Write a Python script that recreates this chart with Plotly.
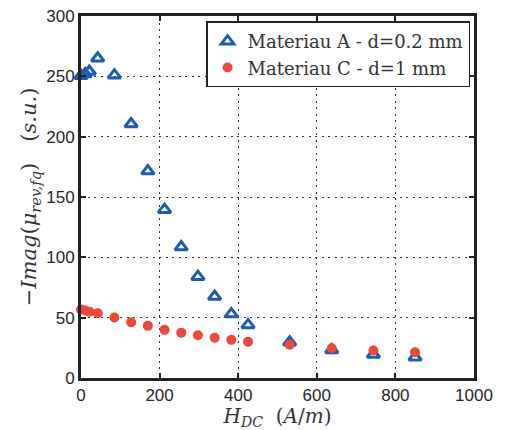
import plotly.graph_objects as go

# Data
h_a = [0, 10.6, 21.3, 42.5, 85, 127.5, 170, 212.5, 255, 297.5, 340, 382.5, 425, 531, 638, 744, 850]
mu_a = [250.5, 252, 254, 265, 251, 210.5, 171.5, 139.5, 108.5, 84, 67.5, 53, 44, 29.6, 23.3, 19.5, 17.2]

h_c = [0, 10.6, 21.3, 42.5, 85, 127.5, 170, 212.5, 255, 297.5, 340, 382.5, 425, 531, 638, 744, 850]
mu_c = [56.7, 56, 55, 53.6, 50.1, 46.2, 43.2, 39.9, 37.6, 35.4, 33.3, 31.6, 30, 27.5, 24.7, 22.8, 21.4]

x_ticks = [0, 200, 400, 600, 800, 1000]
y_ticks = [0, 50, 100, 150, 200, 250, 300]

blue = "#1f5cb0"
red = "#ea4a3a"

fig = go.Figure()
fig.add_trace(go.Scatter(
    x=h_a, y=mu_a, mode="markers", name="Materiau A - d=0.2 mm",
    marker=dict(symbol="triangle-up-open", size=11, color=blue, line=dict(width=3, color=blue)),
    cliponaxis=False,
))
fig.add_trace(go.Scatter(
    x=h_c, y=mu_c, mode="markers", name="Materiau C - d=1 mm",
    marker=dict(symbol="circle", size=10, color=red),
    cliponaxis=False,
))

axis_common = dict(
    showline=True, linewidth=3, linecolor="#222222", mirror="ticks",
    ticks="inside", ticklen=5, tickwidth=2, tickcolor="#222222",
    showgrid=True, gridcolor="#333333", gridwidth=1, griddash="2px,4.5px",
    zeroline=False, automargin=False, ticklabeloverflow="allow",
    tickfont=dict(family="Liberation Sans, Arial, sans-serif", size=17, color="#262626"),
)

# page body has an 8px margin, so the figure is shrunk by 8px
fig.update_layout(
    width=499, height=422,
    margin=dict(l=73, r=33, t=8, b=52),
    paper_bgcolor="white", plot_bgcolor="white",
    xaxis=dict(range=[0, 1000], tickvals=x_ticks,
               title=dict(text="<i>H</i><sub><i>DC</i></sub>  (<i>A</i>/<i>m</i>)",
                          font=dict(family="DejaVu Serif, serif", size=20, color="#333333"),
                          standoff=6),
               **axis_common),
    yaxis=dict(range=[0, 300], tickvals=y_ticks,
               title=dict(text="−<i>Imag</i>(<i>μ</i><sub><i>rev,fq</i></sub>)\u2002\u2002(<i>s.u.</i>)",
                          font=dict(family="DejaVu Serif, serif", size=21, color="#333333"),
                          standoff=4),
               **axis_common),
    legend=dict(
        x=0.99, y=0.985, xanchor="right", yanchor="top",
        bgcolor="white", bordercolor="#222222", borderwidth=1.5,
        font=dict(family="DejaVu Serif, serif", size=18, color="#333333"),
        tracegroupgap=0, itemwidth=30,
    ),
    showlegend=True,
)

fig.write_html("out.html")
